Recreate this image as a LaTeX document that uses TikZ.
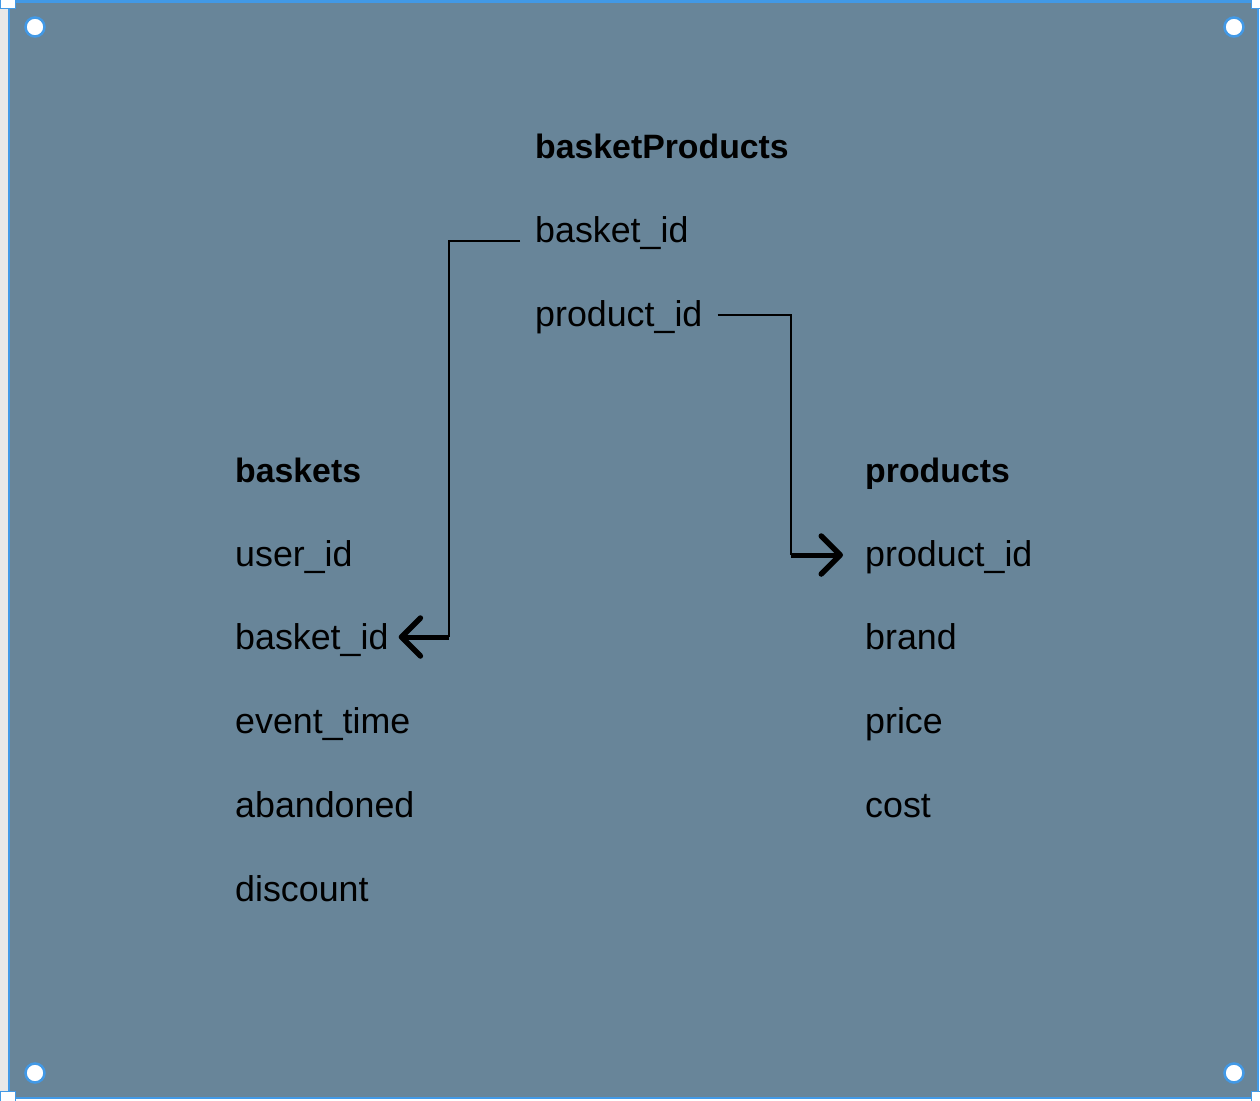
\documentclass[tikz,border=0pt]{standalone}
\usepackage{fontspec}
\setmainfont{Liberation Sans}
\usetikzlibrary{arrows.meta,calc}
\definecolor{bg}{RGB}{104,133,153}
\definecolor{selblue}{RGB}{66,153,230}
\definecolor{strip}{RGB}{232,232,232}
\begin{document}
\begin{tikzpicture}[x=1pt,y=-1pt,
  field/.style={anchor=base west, inner sep=0pt, font=\fontsize{35.8}{40}\selectfont, text=black},
  title/.style={anchor=base west, inner sep=0pt, font=\fontsize{33.8}{40}\selectfont\bfseries, text=black},
  link/.style={draw=black, line width=2pt},
  tiplink/.style={draw=black, line width=5pt, -{Straight Barb[length=19pt,width=38pt,round,line width=5.5pt]}},
  handle/.style={circle, fill=white, draw=selblue, line width=2.5pt, minimum size=19pt, inner sep=0pt},
  cornerbox/.style={rectangle, fill=white, draw=selblue, line width=1.5pt, minimum size=15pt, inner sep=0pt}]
\useasboundingbox (0,0) rectangle (1260,1100);
\fill[strip] (0,0) rectangle (9,1100);
\fill[bg] (9,2) rectangle (1258,1098);
\draw[selblue, line width=2.5pt] (9,1.5) rectangle (1258,1098);
\node[cornerbox] (c1) at (8,1) {};
\node[cornerbox] (c2) at (1259,1) {};
\node[cornerbox] (c3) at (8,1099) {};
\node[cornerbox] (c4) at (1259,1099) {};
\node[handle] (h1) at (35,27) {};
\node[handle] (h2) at (1234,27) {};
\node[handle] (h3) at (35,1073) {};
\node[handle] (h4) at (1234,1073) {};

% basketProducts
\node[title] (bpt) at (535,158) {basketProducts};
\node[field] (bpb) at (535,242) {basket\_id};
\node[field] (bpp) at (535,326) {product\_id};

% baskets
\node[title] (bkt) at (235,482) {baskets};
\node[field] (bk1) at (235,566) {user\_id};
\node[field] (bk2) at (235,649) {basket\_id};
\node[field] (bk3) at (235,733) {event\_time};
\node[field] (bk4) at (235,817) {abandoned};
\node[field] (bk5) at (235,901) {discount};

% products
\node[title] (prt) at (865,482) {products};
\node[field] (pr1) at (865,566) {product\_id};
\node[field] (pr2) at (865,649) {brand};
\node[field] (pr3) at (865,733) {price};
\node[field] (pr4) at (865,817) {cost};

% connectors
\coordinate (j1) at (449,241);
\coordinate (j2) at (449,637);
\draw[link] ($(bpb.base west)+(-15,-1)$) -- (j1) -- (j2);
\draw[tiplink] (j2) -- ($(bk2.base east)+(10,-12)$);

\coordinate (k1) at (791,315);
\coordinate (k2) at (791,555);
\draw[link] ($(bpp.base east)+(15,-11)$) -- (k1) -- (k2);
\draw[tiplink] (k2) -- ($(pr1.base west)+(-22,-11)$);
\end{tikzpicture}
\end{document}
